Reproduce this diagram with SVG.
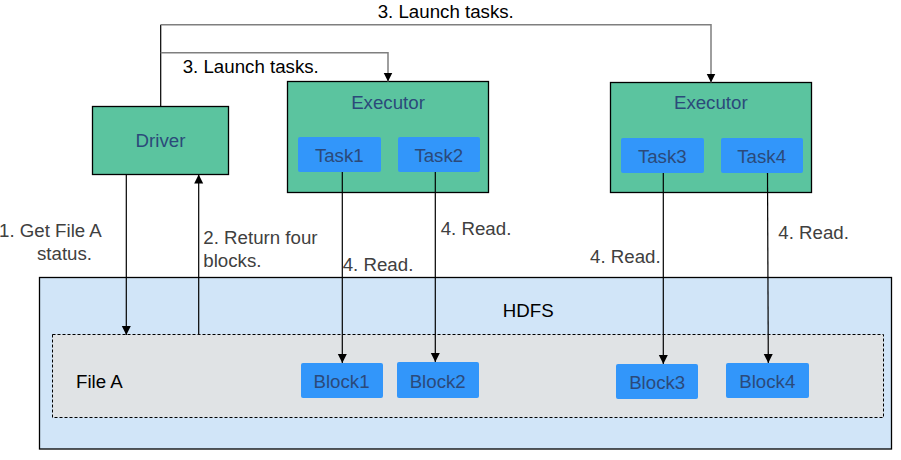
<svg xmlns="http://www.w3.org/2000/svg" width="901" height="460" viewBox="0 0 901 460">
<style>
text{font-family:"Liberation Sans",Arial,sans-serif;font-size:18.7px}
.node{fill:#5BC49F;stroke:#000;stroke-width:1.3}
.task{fill:#3296FA;stroke:none}
.nt{fill:#2B4A7A;text-anchor:middle}
.lbl{fill:#404040}
.blk{fill:#000}
.ln{fill:none;stroke:#000;stroke-width:1.2}
.gl{fill:none;stroke:#7F7F7F;stroke-width:1.5}
</style>
<defs>
<marker id="ah" markerWidth="10" markerHeight="10" refX="9" refY="5" orient="auto" markerUnits="userSpaceOnUse">
<path d="M0,0.5 L9,5 L0,9.5 Z" fill="#000"/>
</marker>
</defs>
<g id="hdfs">
<rect x="39.5" y="277.5" width="852" height="171.5" fill="#D1E5F8" stroke="#000" stroke-width="1.3"/>
<text x="528.3" y="317.3" class="blk" text-anchor="middle">HDFS</text>
</g>
<g id="fileA">
<rect x="52.5" y="334.5" width="831" height="83" fill="#E0E3E5" stroke="#000" stroke-width="1" stroke-dasharray="3,2"/>
<text x="76" y="387.7" class="blk">File A</text>
</g>
<g id="block1"><rect x="301" y="363" width="82" height="35" rx="2" class="task"/><text x="341.5" y="388.3" class="nt">Block1</text></g>
<g id="block2"><rect x="397" y="362" width="82" height="36" rx="2" class="task"/><text x="437.7" y="388.3" class="nt">Block2</text></g>
<g id="block3"><rect x="616" y="364" width="82" height="35" rx="2" class="task"/><text x="657.2" y="389" class="nt">Block3</text></g>
<g id="block4"><rect x="726" y="363" width="83" height="35" rx="2" class="task"/><text x="767.3" y="388.3" class="nt">Block4</text></g>
<g id="driver">
<rect x="92.5" y="106.5" width="136" height="68" class="node"/>
<text x="160.5" y="147.3" class="nt">Driver</text>
</g>
<g id="executor1">
<rect x="287.5" y="81.5" width="201" height="111" class="node"/>
<text x="388" y="109.3" class="nt">Executor</text>
<rect x="298" y="137" width="83" height="35" rx="2" class="task"/>
<text x="339.3" y="162.3" class="nt">Task1</text>
<rect x="398" y="137" width="82" height="35" rx="2" class="task"/>
<text x="438.8" y="162.3" class="nt">Task2</text>
</g>
<g id="executor2">
<rect x="610.5" y="82.5" width="201" height="110" class="node"/>
<text x="710.8" y="109.3" class="nt">Executor</text>
<rect x="621" y="138" width="83" height="35" rx="2" class="task"/>
<text x="662.3" y="163.3" class="nt">Task3</text>
<rect x="721" y="138" width="82" height="35" rx="2" class="task"/>
<text x="761.7" y="163.3" class="nt">Task4</text>
</g>
<g id="connectors">
<path d="M160.7,106.5 V24.7" class="ln"/>
<path d="M160.7,24.7 H711 V82.5" class="gl" marker-end="url(#ah)"/>
<path d="M160.7,52.7 H388 V81.5" class="gl" marker-end="url(#ah)"/>
<path d="M126.3,174.5 V335" class="ln" marker-end="url(#ah)"/>
<path d="M198.7,334.5 V174.5" class="ln" marker-end="url(#ah)"/>
<path d="M342.3,172 V363" class="ln" marker-end="url(#ah)"/>
<path d="M435.3,172 V362" class="ln" marker-end="url(#ah)"/>
<path d="M663.3,173 V364" class="ln" marker-end="url(#ah)"/>
<path d="M767.5,173 L768.3,363" class="ln" marker-end="url(#ah)"/>
</g>
<g id="labels">
<text x="377.7" y="17.5" class="blk">3. Launch tasks.</text>
<text x="182.7" y="72.5" class="blk">3. Launch tasks.</text>
<text x="-1" y="236.7" class="lbl">1. Get File A</text>
<text x="37" y="260" class="lbl">status.</text>
<text x="203.3" y="244.3" class="lbl">2. Return four</text>
<text x="203.3" y="266.7" class="lbl">blocks.</text>
<text x="342.7" y="270.7" class="lbl">4. Read.</text>
<text x="440.7" y="235" class="lbl">4. Read.</text>
<text x="590" y="263.3" class="lbl">4. Read.</text>
<text x="778.3" y="239.3" class="lbl">4. Read.</text>
</g>
</svg>
